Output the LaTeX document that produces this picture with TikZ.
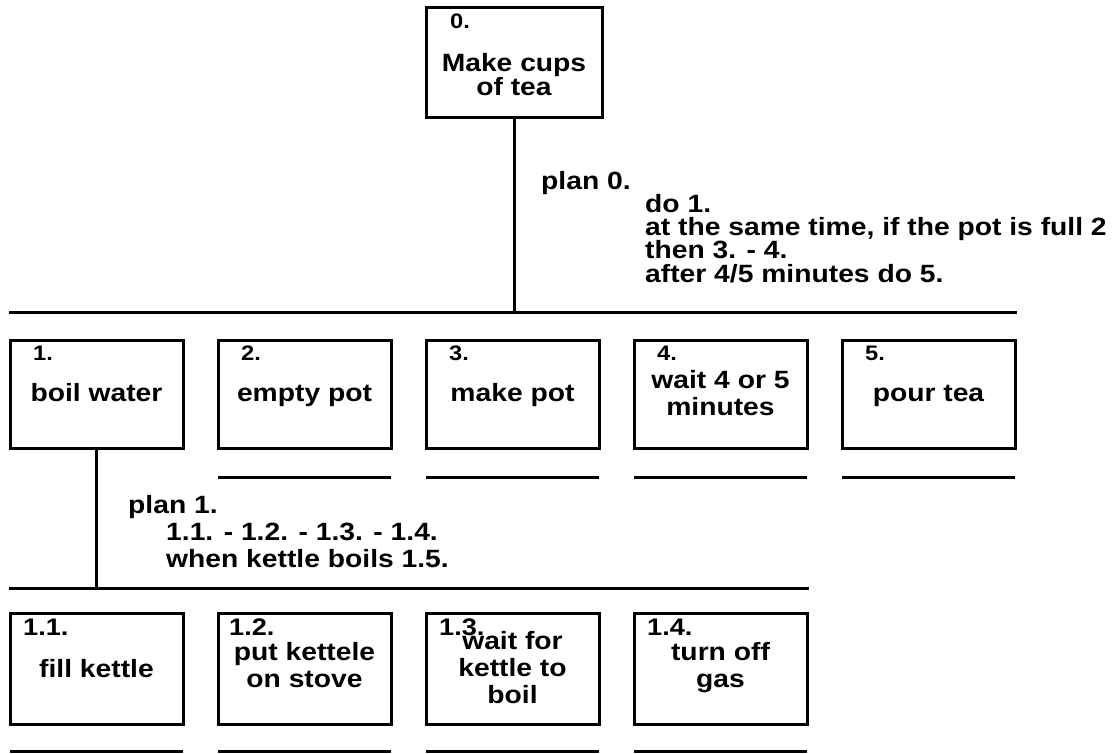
\documentclass[tikz,border=0pt]{standalone}
\usepackage{fontspec}
\newfontfamily\tfam{Liberation Sans}[FakeStretch=1.13]
\newcommand\mainfnt{\tfam\bfseries\fontsize{25}{26}\selectfont}
\newcommand\numfnt{\tfam\bfseries\fontsize{21}{22}\selectfont}
\newcommand\subnumfnt{\tfam\bfseries\fontsize{24}{25}\selectfont}
\tikzset{
  lw/.style={line width=3pt},
  taskbox/.style={draw, lw, anchor=north west, inner sep=0pt, outer sep=0pt,
    minimum width=173pt, minimum height=108pt},
  subbox/.style={taskbox, minimum height=111pt},
  topbox/.style={taskbox, minimum width=176pt, minimum height=110pt},
  txt/.style={font=\mainfnt, anchor=base, inner sep=0pt},
  ltxt/.style={font=\mainfnt, anchor=base west, inner sep=0pt},
  num/.style={font=\numfnt, anchor=base west, inner sep=0pt},
  subnum/.style={font=\subnumfnt, anchor=base west, inner sep=0pt},
  conn/.style={lw},
}
\begin{document}
\begin{tikzpicture}[x=1pt,y=-1pt]
\useasboundingbox (0,0) rectangle (1117,753);

% top task
\node[topbox] (b0) at (426,7) {};
\node[num] (n0) at (450,28) {0.};
\node[txt] (t0a) at (514,71) {Make cups};
\node[txt] (t0b) at (514,95) {of tea};

% bars
\coordinate (h0l) at (9,312);
\coordinate (h0r) at (1017,312);
\coordinate (h1l) at (9,588);
\coordinate (h1r) at (809,588);
\draw[conn] (h0l) -- (h0r);
\draw[conn] (h1l) -- (h1r);
\draw[conn] (b0.south) -- (b0.south |- h0l);

% level 1 boxes
\node[taskbox] (b1) at (10,340) {};
\node[taskbox] (b2) at (218,340) {};
\node[taskbox] (b3) at (426,340) {};
\node[taskbox] (b4) at (634,340) {};
\node[taskbox] (b5) at (842,340) {};

\node[num] (n1) at (33,360) {1.};
\node[num] (n2) at (241,360) {2.};
\node[num] (n3) at (449,360) {3.};
\node[num] (n4) at (657,360) {4.};
\node[num] (n5) at (865,360) {5.};

\node[txt] (t1) at (96.5,401) {boil water};
\node[txt] (t2) at (304.5,401) {empty pot};
\node[txt] (t3) at (512.5,401) {make pot};
\node[txt] (t4a) at (720.5,388) {wait 4 or 5};
\node[txt] (t4b) at (720.5,415) {minutes};
\node[txt] (t5) at (928.5,401) {pour tea};

\foreach \b in {b2,b3,b4,b5}{
  \draw[conn] ([yshift=-29pt]\b.south west) -- ([yshift=-29pt]\b.south east);
}

\draw[conn] (b1.south) -- (b1.south |- h1l);

% plan 0
\node[ltxt] (p0) at (541,189) {plan 0.};
\node[ltxt] (p0a) at (645,212) {do 1.};
\node[ltxt] (p0b) at (645,235) {at the same time, if the pot is full 2};
\node[ltxt] (p0c) at (645,258) {then 3. - 4.};
\node[ltxt] (p0d) at (645,282) {after 4/5 minutes do 5.};

% plan 1
\node[ltxt] (p1) at (128,513) {plan 1.};
\node[ltxt] (p1a) at (166,540) {1.1. - 1.2. - 1.3. - 1.4.};
\node[ltxt] (p1b) at (166,567) {when kettle boils 1.5.};

% level 2 boxes
\node[subbox] (c1) at (10,613) {};
\node[subbox] (c2) at (218,613) {};
\node[subbox] (c3) at (426,613) {};
\node[subbox] (c4) at (634,613) {};

\node[subnum] (m1) at (23,635) {1.1.};
\node[subnum] (m2) at (229,635) {1.2.};
\node[subnum] (m3) at (439,635) {1.3.};
\node[subnum] (m4) at (647,635) {1.4.};

\node[txt] (s1) at (96.5,677) {fill kettle};
\node[txt] (s2a) at (304.5,660) {put kettele};
\node[txt] (s2b) at (304.5,687) {on stove};
\node[txt] (s3a) at (512.5,649) {wait for};
\node[txt] (s3b) at (512.5,676) {kettle to};
\node[txt] (s3c) at (512.5,703) {boil};
\node[txt] (s4a) at (720.5,660) {turn off};
\node[txt] (s4b) at (720.5,687) {gas};

\foreach \b in {c1,c2,c3,c4}{
  \draw[conn] ([yshift=-27pt]\b.south west) -- ([yshift=-27pt]\b.south east);
}
\end{tikzpicture}
\end{document}
